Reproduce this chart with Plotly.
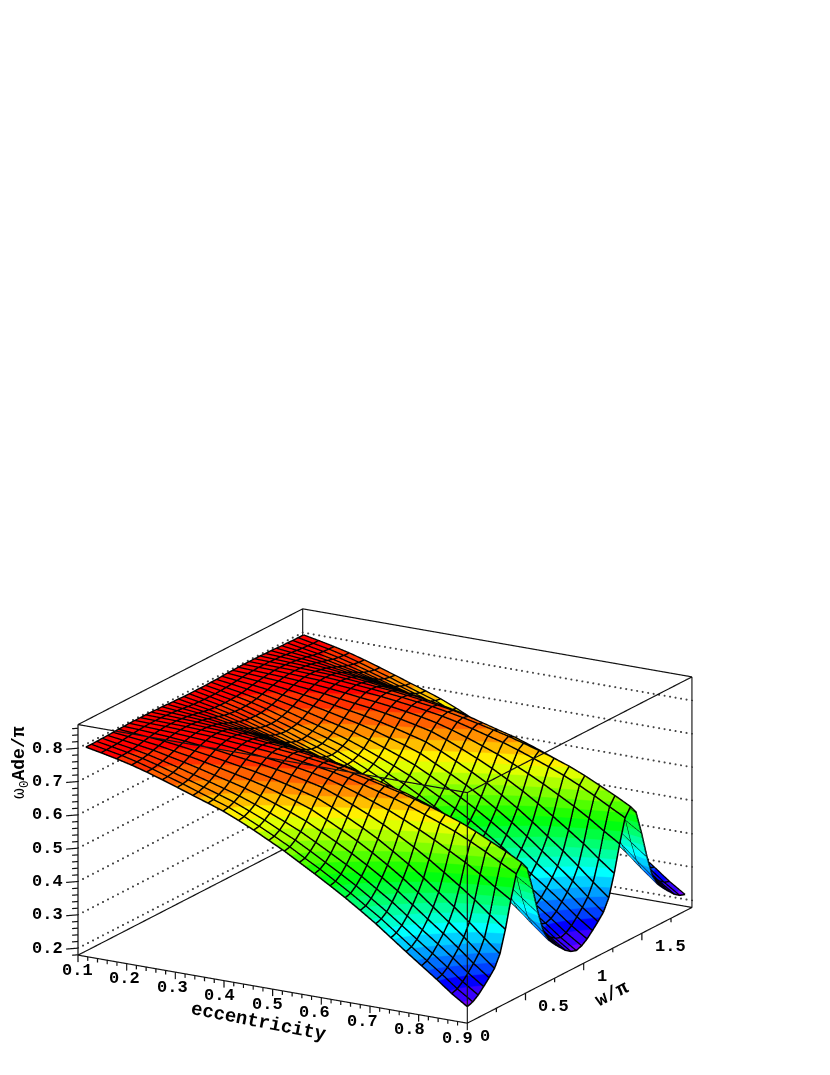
"""Surface of w0*Ade/pi against eccentricity and w/pi, boxed like a Maple 3-D plot."""
import numpy as np
import plotly.graph_objects as go

# Box limits
E_LO, E_HI = 0.1, 0.9
W_LO, W_HI = 0.0, 1.93
Z_LO, Z_HI = 0.179, 0.871

ECC = [0.116, 0.147, 0.179, 0.210, 0.241, 0.273, 0.304, 0.336, 0.367, 0.398, 0.430, 0.461, 0.492,
       0.524, 0.555, 0.586, 0.618, 0.649, 0.680, 0.712, 0.743, 0.774, 0.806, 0.837, 0.868, 0.900]
W_STEP = 0.04675
W_VALUES = [round(i * W_STEP, 5) for i in range(41)]

# one valley-to-ridge flank per eccentricity (w index 0..10)
FLANK = [
    [.806, .806, .806, .807, .807, .808, .809, .809, .810, .810, .810],
    [.797, .797, .798, .799, .801, .803, .805, .807, .808, .809, .809],
    [.787, .788, .789, .791, .794, .798, .801, .804, .806, .808, .808],
    [.776, .777, .779, .782, .787, .792, .797, .801, .804, .806, .807],
    [.763, .764, .767, .771, .777, .784, .791, .797, .801, .804, .805],
    [.748, .749, .753, .759, .767, .776, .784, .792, .798, .802, .803],
    [.733, .735, .739, .746, .756, .767, .777, .787, .794, .798, .800],
    [.717, .719, .725, .733, .744, .757, .769, .780, .789, .794, .796],
    [.702, .704, .711, .720, .733, .747, .761, .774, .783, .790, .792],
    [.686, .689, .696, .706, .721, .737, .753, .768, .778, .786, .788],
    [.666, .669, .677, .689, .706, .725, .743, .760, .772, .780, .783],
    [.645, .648, .658, .671, .690, .711, .732, .751, .765, .774, .777],
    [.622, .626, .636, .652, .673, .697, .720, .741, .757, .767, .771],
    [.598, .602, .614, .631, .654, .681, .707, .730, .747, .759, .763],
    [.572, .576, .589, .607, .631, .658, .687, .713, .734, .749, .754],
    [.546, .551, .563, .582, .607, .635, .665, .694, .719, .737, .744],
    [.518, .523, .536, .556, .581, .610, .641, .673, .702, .724, .733],
    [.490, .495, .509, .529, .554, .583, .616, .651, .685, .712, .722],
    [.460, .465, .479, .499, .525, .554, .587, .626, .665, .697, .709],
    [.428, .434, .447, .468, .493, .522, .556, .599, .643, .680, .695],
    [.394, .400, .414, .434, .459, .488, .523, .570, .620, .663, .680],
    [.360, .366, .380, .400, .424, .452, .488, .539, .595, .645, .664],
    [.326, .332, .346, .366, .389, .415, .452, .506, .569, .623, .644],
    [.293, .299, .312, .332, .353, .378, .414, .473, .541, .600, .622],
    [.258, .264, .277, .295, .315, .338, .374, .436, .510, .575, .600],
    [.227, .233, .245, .262, .280, .300, .335, .400, .480, .550, .575],
]

Z_MAJOR = [0.2, 0.3, 0.4, 0.5, 0.6, 0.7, 0.8]
Z_MINOR = [0.18, 0.22, 0.24, 0.26, 0.28, 0.32, 0.34, 0.36, 0.38, 0.42, 0.44, 0.46, 0.48, 0.52, 0.54,
           0.56, 0.58, 0.62, 0.64, 0.66, 0.68, 0.72, 0.74, 0.76, 0.78, 0.82, 0.84, 0.86]
E_MAJOR = [0.1, 0.2, 0.3, 0.4, 0.5, 0.6, 0.7, 0.8, 0.9]
E_MINOR = [0.12, 0.14, 0.16, 0.18, 0.22, 0.24, 0.26, 0.28, 0.32, 0.34, 0.36, 0.38, 0.42, 0.44, 0.46,
           0.48, 0.52, 0.54, 0.56, 0.58, 0.62, 0.64, 0.66, 0.68, 0.72, 0.74, 0.76, 0.78, 0.82, 0.84,
           0.86, 0.88]
W_MAJOR = [0, 0.5, 1, 1.5]
W_MINOR = [0.25, 0.75, 1.25, 1.75]

# top band first
BAND_COLORS = ["#ff0000", "#ff3000", "#ff6000", "#ff8f00", "#ffbf00", "#ffef00", "#dfff00", "#afff00",
               "#80ff00", "#50ff00", "#20ff00", "#00ff10", "#00ff40", "#00ff70", "#00ff9f", "#00ffcf",
               "#00ffff", "#00cfff", "#009fff", "#0070ff", "#0040ff", "#0000ff", "#3800ff", "#7000ff",
               "#8000ff"]
BAND_TOP = 0.815
BAND_WIDTH = 0.025

EYE_DIST = 2.0
ZOOM = 1.906
FONT = "Liberation Mono"
DOTS_SIDE = 46
DOTS_BACK = 72
MESH_LIFT = 0.0015


def band_scale():
    n = len(BAND_COLORS)
    scale = []
    for i, col in enumerate(reversed(BAND_COLORS)):
        scale.append([i / n, col])
        scale.append([(i + 1) / n, col])
    return scale


def segments(pairs):
    xs, ys, zs = [], [], []
    for a, b in pairs:
        xs += [a[0], b[0], None]
        ys += [a[1], b[1], None]
        zs += [a[2], b[2], None]
    return xs, ys, zs


def line_trace(pairs, width=2.4, color="#111111", dash="solid"):
    xs, ys, zs = segments(pairs)
    return go.Scatter3d(x=xs, y=ys, z=zs, mode="lines", hoverinfo="skip", showlegend=False,
                        line={"color": color, "width": width, "dash": dash})


def label(x, y, z, text, xshift=0, yshift=0, xanchor="center", angle=0, size=17):
    return dict(x=x, y=y, z=z, text=text, showarrow=False, xanchor=xanchor, yanchor="middle",
                xshift=xshift, yshift=yshift, textangle=angle,
                font={"family": FONT, "size": size, "color": "black"})


rows = [q + q[-2::-1] + q[1:] + q[-2::-1] for q in FLANK]
z_grid = np.array(rows).T

fig = go.Figure()
fig.add_trace(go.Surface(
    x=ECC, y=W_VALUES, z=z_grid,
    colorscale=band_scale(), showscale=False, hoverinfo="skip",
    cmin=BAND_TOP - BAND_WIDTH * len(BAND_COLORS), cmax=BAND_TOP,
    lighting={"ambient": 1, "diffuse": 0, "specular": 0, "roughness": 1, "fresnel": 0},
    contours={"x": {"highlight": False}, "y": {"highlight": False}, "z": {"highlight": False}},
))

# mesh lines along both directions of the table
mesh_x, mesh_y, mesh_z = [], [], []
for i, e in enumerate(ECC):
    mesh_x += [e] * len(W_VALUES) + [None]
    mesh_y += W_VALUES + [None]
    mesh_z += [v + MESH_LIFT for v in rows[i]] + [None]
for j, w in enumerate(W_VALUES):
    mesh_x += ECC + [None]
    mesh_y += [w] * len(ECC) + [None]
    mesh_z += [row[j] + MESH_LIFT for row in rows] + [None]
fig.add_trace(go.Scatter3d(x=mesh_x, y=mesh_y, z=mesh_z, mode="lines", hoverinfo="skip", showlegend=False,
                           line={"color": "black", "width": 3}))

# bounding box
c = [(e, w, z) for e in (E_LO, E_HI) for w in (W_LO, W_HI) for z in (Z_LO, Z_HI)]
box = [(c[i], c[j]) for i in range(8) for j in range(i + 1, 8)
       if sum(p != q for p, q in zip(c[i], c[j])) == 1]
fig.add_trace(line_trace(box))

# dotted z grid on the two back walls, laid out as small dots
dot_x, dot_y, dot_z = [], [], []
for z in Z_MAJOR:
    side = np.linspace(W_LO, W_HI, DOTS_SIDE)
    back = np.linspace(E_LO, E_HI, DOTS_BACK)
    dot_x += [E_LO] * DOTS_SIDE + back.tolist()
    dot_y += side.tolist() + [W_HI] * DOTS_BACK
    dot_z += [z] * (DOTS_SIDE + DOTS_BACK)
fig.add_trace(go.Scatter3d(x=dot_x, y=dot_y, z=dot_z, mode="markers", hoverinfo="skip", showlegend=False,
                           marker={"size": 1.2, "color": "#444444", "line": {"width": 0}}))

# tick marks, offsets in data units (screen-horizontal for z, screen-down for e and w)
E_PER_PX = (E_HI - E_LO) / 390
W_PER_PX = (W_HI - W_LO) / 225
Z_PER_PX = (Z_HI - Z_LO) / 231


def z_tick(z, px):
    return ((E_LO, W_LO, z), (E_LO - px * 0.75 * E_PER_PX, W_LO - px * 0.44 * W_PER_PX, z))


ticks = [z_tick(z, 10) for z in Z_MAJOR] + [z_tick(z, 5) for z in Z_MINOR]
ticks += [((e, W_LO, Z_LO), (e, W_LO, Z_LO - 7 * Z_PER_PX)) for e in E_MAJOR]
ticks += [((e, W_LO, Z_LO), (e, W_LO, Z_LO - 4 * Z_PER_PX)) for e in E_MINOR]
ticks += [((E_HI, w, Z_LO), (E_HI, w, Z_LO - 7 * Z_PER_PX)) for w in W_MAJOR]
ticks += [((E_HI, w, Z_LO), (E_HI, w, Z_LO - 4 * Z_PER_PX)) for w in W_MINOR]
fig.add_trace(line_trace(ticks))

notes = []
for z in Z_MAJOR:
    notes.append(label(E_LO, W_LO, z, f"<b>{z:.1f}</b>", xshift=-13, xanchor="right"))
for e in E_MAJOR:
    notes.append(label(e, W_LO, Z_LO, f"<b>{e:.1f}</b>", xshift=-1 - (e - 0.1) * 11, yshift=-15))
for w in W_MAJOR:
    notes.append(label(E_HI, w, Z_LO, f"<b>{w:g}</b>", xshift=11, yshift=-13, xanchor="left"))
notes.append(label(0.5, W_LO, Z_LO, "<b>eccentricity</b>", xshift=-14, yshift=-33, angle=11, size=19))
notes.append(label(E_HI, 1.0, Z_LO, "<b>w/π</b>", xshift=29, yshift=-31, angle=-27, size=19))
notes.append(label(E_LO, W_LO, 0.525, "ω<sub>0</sub><b>Ade/π</b>", xshift=-57, yshift=77, angle=-90, size=18))

hidden = dict(visible=False, showgrid=False, zeroline=False, showticklabels=False, showbackground=False)
fig.update_layout(
    width=830, height=1075,
    margin=dict(l=0, r=0, t=0, b=0),
    paper_bgcolor="white",
    showlegend=False,
    scene=dict(
        domain=dict(x=[0, 0.9084], y=[0.0065, 0.4902]),
        xaxis=dict(hidden, range=[0.06, 0.94]),
        yaxis=dict(hidden, range=[-0.1, 2.03]),
        zaxis=dict(hidden, range=[0.149, 0.901]),
        aspectmode="manual",
        aspectratio=dict(x=1 * ZOOM, y=0.994 * ZOOM, z=0.530 * ZOOM),
        camera=dict(
            projection=dict(type="orthographic"),
            eye=dict(x=0.480 * EYE_DIST, y=-0.824 * EYE_DIST, z=0.300 * EYE_DIST),
            center=dict(x=0, y=0, z=0),
            up=dict(x=0, y=0, z=1),
        ),
        annotations=notes,
    ),
)

fig.write_html("out.html", config={"displayModeBar": False})
